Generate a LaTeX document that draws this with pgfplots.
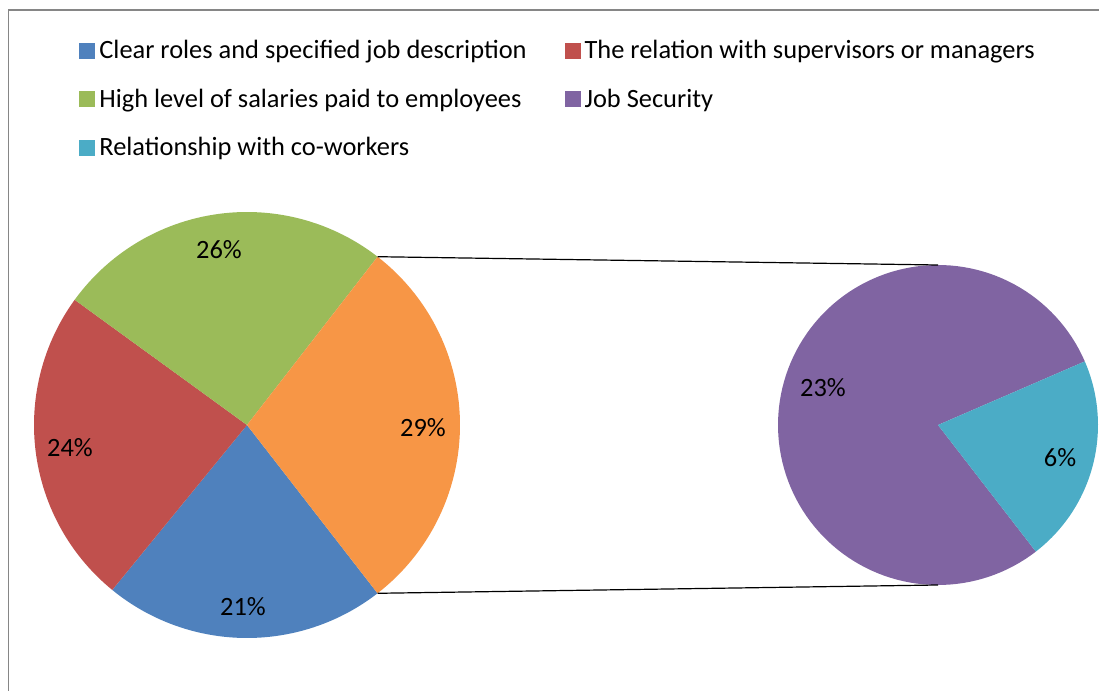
\documentclass[border=0pt]{standalone}
\usepackage{fontspec}
\setmainfont{Carlito}
\usepackage{pgfplots}
\pgfplotsset{compat=1.18}
\definecolor{cBlue}{HTML}{4F81BD}
\definecolor{cRed}{HTML}{C0504D}
\definecolor{cGreen}{HTML}{9BBB59}
\definecolor{cPurple}{HTML}{8064A2}
\definecolor{cTeal}{HTML}{4BACC6}
\definecolor{cOrange}{HTML}{F79646}
\definecolor{cBorder}{HTML}{868686}
% data (percent)
\newcommand\vClr{21.4}
\newcommand\vRel{24.1}
\newcommand\vSal{25.5}
\newcommand\vSec{22.9}
\newcommand\vCow{6.1}
\begin{document}
\begin{tikzpicture}
\pgfmathsetmacro\other{\vSec+\vCow}
\pgfmathsetmacro\aA{-\other*1.8}
\pgfmathsetmacro\aB{\other*1.8}
\pgfmathsetmacro\aC{\aB+\vSal*3.6}
\pgfmathsetmacro\aD{\aC+\vRel*3.6}
\pgfmathsetmacro\aE{\aD+\vClr*3.6}
\pgfmathsetmacro\bA{-52.3}
\pgfmathsetmacro\bB{\bA+\vCow/\other*360}
\pgfmathsetmacro\bC{\bA+360}
% main pie centre / radius, second pie centre / radius
\def\cx{247}\def\cy{266}\def\r{213}
\def\dx{938}\def\dy{266}\def\rr{160}
\pgfmathsetmacro\pxa{\cx+\r*cos(\aB)}
\pgfmathsetmacro\pya{\cy+\r*sin(\aB)}
\pgfmathsetmacro\pyb{\cy-\r*sin(\aB)}
\pgfmathsetmacro\qya{\dy+\rr}
\pgfmathsetmacro\qyb{\dy-\rr}
\begin{axis}[
  scale only axis, width=549.5pt, height=345.5pt,
  xmin=0, xmax=1099, ymin=0, ymax=691,
  hide axis, clip=false,
  legend columns=2,
  legend image code/.code={\fill[#1] (0pt,-4pt) rectangle (8pt,4pt);},
  legend style={draw=none, fill=none, font=\fontsize{13.2}{15}\selectfont,
    at={(axis cs:79,655)}, anchor=north west,
    inner xsep=0pt, inner ysep=0pt,
    cells={anchor=west}, row sep=9.5pt,
    /tikz/column 2/.style={column sep=17pt}},
]
\addplot[fill=cBlue, draw=none, domain=\aD:\aE, samples=60, variable=\t]
  ({\cx+\r*cos(\t)},{\cy+\r*sin(\t)}) -- (axis cs:\cx,\cy) -- cycle;
\addlegendentry{Clear roles and specified job description}
\addplot[fill=cRed, draw=none, domain=\aC:\aD, samples=60, variable=\t]
  ({\cx+\r*cos(\t)},{\cy+\r*sin(\t)}) -- (axis cs:\cx,\cy) -- cycle;
\addlegendentry{The relation with supervisors or managers}
\addplot[fill=cGreen, draw=none, domain=\aB:\aC, samples=60, variable=\t]
  ({\cx+\r*cos(\t)},{\cy+\r*sin(\t)}) -- (axis cs:\cx,\cy) -- cycle;
\addlegendentry{High level of salaries paid to employees}
\addplot[fill=cPurple, draw=none, domain=\bB:\bC, samples=120, variable=\t]
  ({\dx+\rr*cos(\t)},{\dy+\rr*sin(\t)}) -- (axis cs:\dx,\dy) -- cycle;
\addlegendentry{Job Security}
\addplot[fill=cTeal, draw=none, domain=\bA:\bB, samples=40, variable=\t]
  ({\dx+\rr*cos(\t)},{\dy+\rr*sin(\t)}) -- (axis cs:\dx,\dy) -- cycle;
\addlegendentry{Relationship with co-workers}
\addplot[fill=cOrange, draw=none, domain=\aA:\aB, samples=60, variable=\t, forget plot]
  ({\cx+\r*cos(\t)},{\cy+\r*sin(\t)}) -- (axis cs:\cx,\cy) -- cycle;
% connector lines
\addplot[black, line width=0.6pt, forget plot] coordinates {(\pxa,\pya) (\dx,\qya)};
\addplot[black, line width=0.6pt, forget plot] coordinates {(\pxa,\pyb) (\dx,\qyb)};
% chart border
\draw[cBorder, line width=0.8pt] (axis cs:8.5,0) -- (axis cs:8.5,681) -- (axis cs:1099,681);
% labels
\begin{scope}[every node/.style={font=\fontsize{13.2}{15}\selectfont}]
\node at (axis cs:219,441) {26\%};
\node at (axis cs:423,263) {29\%};
\node at (axis cs:70,243) {24\%};
\node at (axis cs:243,84) {21\%};
\node at (axis cs:823,303) {23\%};
\node at (axis cs:1060,233) {6\%};
\end{scope}
\end{axis}
\pgfresetboundingbox
\useasboundingbox (current axis.south west) rectangle (current axis.north east);
\end{tikzpicture}
\end{document}
